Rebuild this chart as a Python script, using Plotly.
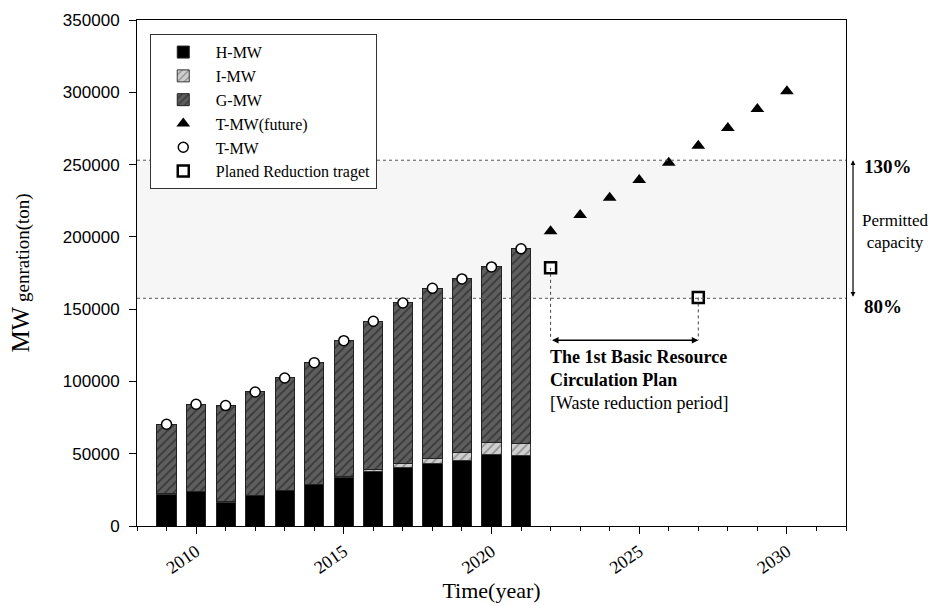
import plotly.graph_objects as go

# ---- data ----
years_hist = [2009, 2010, 2011, 2012, 2013, 2014, 2015, 2016, 2017, 2018, 2019, 2020, 2021]
h_mw = [22000, 23700, 16600, 21000, 24400, 28600, 33400, 37600, 40800, 43300, 45600, 49300, 48900]
i_mw = [300, 300, 300, 300, 300, 300, 1000, 1600, 2100, 3500, 5300, 8500, 8300]
t_mw = [70400, 84200, 83300, 92700, 102400, 113000, 128200, 141600, 154300, 164400, 170900, 179200, 191700]
g_mw = [t - h - i for t, h, i in zip(t_mw, h_mw, i_mw)]

years_future = [2022, 2023, 2024, 2025, 2026, 2027, 2028, 2029, 2030]
t_mw_future = [203800, 215100, 227100, 239300, 251200, 263000, 275300, 288400, 300800]

years_target = [2022, 2027]
target = [178600, 158100]

band_low = 157500   # 80 %
band_high = 253000  # 130 %
arrow_level = 128500

serif = "Liberation Serif, Times New Roman, serif"
sans = "Liberation Sans, Arial, sans-serif"

fig = go.Figure()

fig.add_trace(go.Bar(
    x=years_hist, y=h_mw, name="H-MW", width=0.65,
    marker=dict(color="black", line=dict(color="#222", width=1)),
))
fig.add_trace(go.Bar(
    x=years_hist, y=i_mw, name="I-MW", width=0.65,
    marker=dict(color="#cfcfcf", line=dict(color="#333", width=1),
                pattern=dict(shape="/", fgcolor="#555", size=6, solidity=0.3)),
))
fig.add_trace(go.Bar(
    x=years_hist, y=g_mw, name="G-MW", width=0.65,
    marker=dict(color="#5e5e5e", line=dict(color="#222", width=1),
                pattern=dict(shape="/", fgcolor="#111", size=6, solidity=0.3)),
))
fig.add_trace(go.Scatter(
    x=years_future, y=t_mw_future, name="T-MW(future)", mode="markers",
    marker=dict(symbol="triangle-up", size=12, color="black"),
))
fig.add_trace(go.Scatter(
    x=years_hist, y=t_mw, name="T-MW", mode="markers",
    marker=dict(symbol="circle", size=10, color="white", line=dict(color="black", width=1.5)),
))
fig.add_trace(go.Scatter(
    x=years_target, y=target, name="Planed Reduction traget", mode="markers",
    marker=dict(symbol="square", size=11, color="white", line=dict(color="black", width=2.5)),
))

# permitted capacity band
fig.add_shape(type="rect", xref="paper", x0=0, x1=1, yref="y", y0=band_low, y1=band_high,
              fillcolor="#f6f6f6", line=dict(width=0), layer="below")
for yv in (band_low, band_high):
    fig.add_shape(type="line", xref="paper", x0=0, x1=1, yref="y", y0=yv, y1=yv,
                  line=dict(color="#555", width=1, dash="dot"), layer="above")

# dotted droplines from targets
for xv, yv in zip(years_target, target):
    fig.add_shape(type="line", xref="x", x0=xv, x1=xv, yref="y", y0=yv, y1=arrow_level,
                  line=dict(color="#444", width=1, dash="dot"))

# double arrow for reduction period
fig.add_annotation(x=years_target[1], y=arrow_level, ax=years_target[0], ay=arrow_level,
                   xref="x", yref="y", axref="x", ayref="y", text="", showarrow=True,
                   arrowhead=2, arrowside="end+start", arrowsize=1, arrowwidth=1.3, arrowcolor="black")

plan_lines = ["<b>The 1st Basic Resource</b>", "<b>Circulation Plan</b>", "[Waste reduction period]"]
for k, txt in enumerate(plan_lines):
    fig.add_annotation(x=years_target[0], y=arrow_level, xref="x", yref="y", xanchor="left", yanchor="middle",
                       text=txt, showarrow=False, yshift=-17 - 23 * k, xshift=-3,
                       font=dict(family=serif, size=18, color="black"))

# permitted capacity arrow on the right
fig.add_annotation(x=1.0099, xref="paper", y=band_high, yref="y", ax=0, axref="pixel",
                   ay=band_low, ayref="y", text="", showarrow=True, arrowhead=2,
                   arrowside="end+start", arrowsize=0.8, arrowwidth=1.2, arrowcolor="black")
fig.add_annotation(x=1.022, xref="paper", y=band_high, yref="y", xanchor="left", yanchor="middle",
                   text="<b>130%</b>", showarrow=False, yshift=-6,
                   font=dict(family=serif, size=19, color="black"))
fig.add_annotation(x=1.022, xref="paper", y=band_low, yref="y", xanchor="left", yanchor="middle",
                   text="<b>80%</b>", showarrow=False, yshift=-8,
                   font=dict(family=serif, size=19, color="black"))
fig.add_annotation(x=1.0695, xref="paper", y=(band_low + band_high) / 2, yref="y",
                   xanchor="center", yanchor="middle",
                   text="Permitted<br>capacity", showarrow=False, yshift=-2,
                   font=dict(family=serif, size=17, color="black"))

fig.update_layout(
    width=933, height=606,
    margin=dict(l=137, r=87, t=20, b=80),
    plot_bgcolor="white", paper_bgcolor="white",
    barmode="stack",
    showlegend=True,
    legend=dict(x=0.018, y=0.972, xanchor="left", yanchor="top",
                bordercolor="#333", borderwidth=1, bgcolor="white",
                font=dict(family=serif, size=16, color="black"),
                traceorder="normal", itemwidth=55, tracegroupgap=0),
    font=dict(family=serif, color="black"),
)

fig.update_xaxes(
    range=[2008, 2032], tickmode="linear", tick0=2010, dtick=5,
    ticks="outside", ticklen=7, tickwidth=1, tickcolor="black",
    minor=dict(tickmode="linear", tick0=2008, dtick=1, ticks="outside", ticklen=4, tickcolor="black"),
    showline=True, linecolor="black", linewidth=1, mirror=True,
    showgrid=False, zeroline=False, tickangle=-35,
    tickfont=dict(family=serif, size=18, color="black"),
    title=dict(text="Time(year)", font=dict(family=serif, size=22, color="black"), standoff=4),
    automargin=False,
)
fig.update_yaxes(
    range=[0, 350000], tickmode="linear", tick0=0, dtick=50000, tickformat="d",
    ticks="outside", ticklen=7, tickwidth=1, tickcolor="black", ticklabelstandoff=6,
    showline=True, linecolor="black", linewidth=1, mirror=True,
    showgrid=False, zeroline=False,
    tickfont=dict(family=sans, size=17, color="black"),
    title=dict(text="<span style='font-size:25px'>MW</span> genration(ton)",
               font=dict(family=serif, size=19, color="black"), standoff=28),
    automargin=False,
)

fig.write_html("out.html")
